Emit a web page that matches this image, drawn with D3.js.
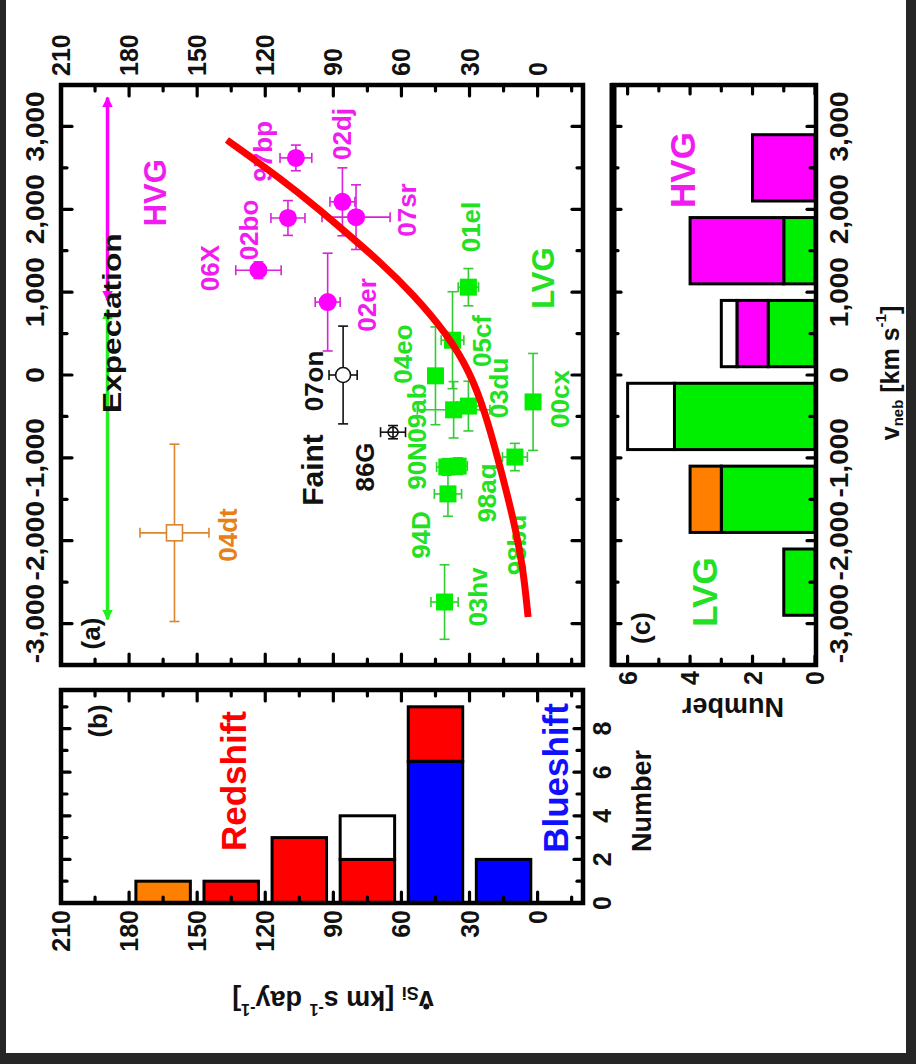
<!DOCTYPE html>
<html>
<head>
<meta charset="utf-8">
<script src="https://cdn.jsdelivr.net/npm/d3@7"></script>
<style>
  html, body { margin: 0; padding: 0; background: #262626; }
  svg { display: block; }
</style>
</head>
<body>
<svg id="fig" width="916" height="1064"></svg>
<script>
// ---------------- data ----------------
// Panel (a): high-velocity-gradient (HVG) objects
const hvgNames   = ["97bp", "02bo", "06X", "02dj", "07sr", "02er"];
const hvgVneb    = [2620, 1895, 1265, 2090, 1905, 880];
const hvgVnebErr = [155, 210, 100, 410, 390, 590];
const hvgVsi     = [106.5, 110, 123, 86, 80, 92.5];
const hvgVsiErr  = [7, 7.5, 10, 5.5, 15, 5.5];

// Panel (a): low-velocity-gradient (LVG) objects
const lvgNames   = ["01el", "05cf", "04eo", "09ab", "03du", "00cx", "90N", "98aq", "94D", "98bu", "03hv"];
const lvgVneb    = [1060, 420, -10, -420, -375, -325, -1110, -1100, -1435, -990, -2740];
const lvgVnebErr = [225, 585, 590, 340, 300, 585, 100, 100, 270, 165, 450];
const lvgVsi     = [30.5, 37.5, 45, 37, 30.5, 2, 40, 35, 39.5, 10, 41];
const lvgVsiErr  = [4.5, 5, 3, 16, 5, 3, 4.5, 4, 6, 5.5, 6];

// Panel (a): faint objects and the peculiar 04dt
const faintNames   = ["07on", "86G"];
const faintVneb    = [0, -690];
const faintVnebErr = [590, 80];
const faintVsi     = [85.7, 63.7];
const faintVsiErr  = [6.2, 5.5];

const oddName    = "04dt";
const oddVneb    = -1905;
const oddVnebErr = 1070;
const oddVsi     = 160;
const oddVsiErr  = 15.2;

// Expected relation (red curve)
const curveVsi  = [136.9, 113.5, 95.9, 82.7, 69.4, 54.9, 39.9, 29.8, 23.2, 17.9, 10.8, 6.4, 4.2];
const curveVneb = [2836, 2378, 1991, 1678, 1364, 978, 495, 36, -447, -965, -1714, -2317, -2921];

// Expected v_neb ranges of the two groups
const expectHVG = [900, 3350];
const expectLVG = [-2950, 790];
const expectVsi = 189.5;

// Panel (b): histogram of Si velocity gradient (bins of 30)
const binsB    = [[150, 180], [120, 150], [90, 120], [60, 90], [30, 60], [0, 30]];
const bBlue    = [0, 0, 0, 0, 6.5, 2];
const bRed     = [0, 1, 3, 2, 2.5, 0];
const bOrange  = [1, 0, 0, 0, 0, 0];
const bBlank   = [0, 0, 0, 2, 0, 0];

// Panel (c): histogram of nebular velocity shift (bins of 1000)
const binsC    = [[-3000, -2000], [-2000, -1000], [-1000, 0], [0, 1000], [1000, 2000], [2000, 3000]];
const cGreen   = [1, 3, 4.5, 1.5, 1, 0];
const cMagenta = [0, 0, 0, 1, 3, 2];
const cOrange  = [0, 1, 0, 0, 0, 0];
const cBlank   = [0, 0, 1.5, 0.5, 0, 0];

// Tick values
const vsiTickLabels  = [210, 180, 150, 120, 90, 60, 30, 0];
const vnebTickLabels = [-3000, -2000, -1000, 0, 1000, 2000, 3000];
const numBTickLabels = [0, 2, 4, 6, 8];
const numCTickLabels = [0, 2, 4, 6];

// ---------------- style ----------------
const FONT = "'Liberation Sans', Arial, Helvetica, sans-serif";
const MAGENTA = "#ff00ff", GREEN = "#00ee00", RED = "#ff0000", BLUE = "#0000ff", ORANGE = "#ff8000";
const MAGENTA_TXT = "#f01cf0", GREEN_TXT = "#22e022", ORANGE_TXT = "#e8801a";
const fmt = d3.formatLocale({decimal: ".", thousands: ",", grouping: [3], currency: ["", ""], minus: "-"}).format(",");

const svg = d3.select("#fig");
svg.append("rect").attr("width", 916).attr("height", 1064).attr("fill", "#262626");
svg.append("rect").attr("x", 6).attr("y", 0).attr("width", 900).attr("height", 1053).attr("fill", "#ffffff");

// ---------------- scales ----------------
const xVsi  = d3.scaleLinear().domain([210, -20]).range([61, 583]);     // panels (a),(b)
const yVneb = d3.scaleLinear().domain([-3500, 3500]).range([665, 85]);  // panels (a),(c)
const yNumB = d3.scaleLinear().domain([0, 9.77]).range([903, 690]);     // panel (b)
const xNumC = d3.scaleLinear().domain([0, 6.5]).range([815, 612]);      // panel (c)

// ---------------- helpers ----------------
function label(g, x, y, str, size, color, opts = {}) {
  const angle = opts.angle ?? -90, anchor = opts.anchor ?? "middle", sx = opts.sx ?? 1;
  return g.append("text")
    .attr("transform", `translate(${x},${y}) rotate(${angle}) scale(${sx},1)`)
    .attr("text-anchor", anchor)
    .attr("dominant-baseline", "central")
    .attr("font-family", FONT).attr("font-weight", "bold")
    .attr("font-size", size).attr("fill", color)
    .text(str);
}

function ticks(g, values, place, isMajor, lenMaj = 11, lenMin = 6) {
  g.selectAll(null).data(values).join("line")
    .each(function (v) {
      const p = place(v), L = isMajor(v) ? lenMaj : lenMin;
      d3.select(this)
        .attr("x1", p.x).attr("y1", p.y)
        .attr("x2", p.x + p.dx * L).attr("y2", p.y + p.dy * L);
    })
    .attr("stroke", "#000").attr("stroke-width", 3.2).attr("stroke-linecap", "round");
}

function errorBars(g, vsi, vsiErr, vneb, vnebErr, color) {
  const cap = 5;
  const rows = vsi.map((v, i) => ({v, ve: vsiErr[i], n: vneb[i], ne: vnebErr[i]}));
  const eg = g.append("g").attr("stroke", color).attr("stroke-width", 1.6).attr("fill", "none");
  rows.forEach(d => {
    const x = xVsi(d.v), y = yVneb(d.n);
    const x0 = xVsi(d.v + d.ve), x1 = xVsi(d.v - d.ve);
    const y0 = yVneb(d.n + d.ne), y1 = yVneb(d.n - d.ne);
    eg.append("line").attr("x1", x0).attr("x2", x1).attr("y1", y).attr("y2", y);
    eg.append("line").attr("x1", x0).attr("x2", x0).attr("y1", y - cap).attr("y2", y + cap);
    eg.append("line").attr("x1", x1).attr("x2", x1).attr("y1", y - cap).attr("y2", y + cap);
    eg.append("line").attr("x1", x).attr("x2", x).attr("y1", y0).attr("y2", y1);
    eg.append("line").attr("x1", x - cap).attr("x2", x + cap).attr("y1", y0).attr("y2", y0);
    eg.append("line").attr("x1", x - cap).attr("x2", x + cap).attr("y1", y1).attr("y2", y1);
  });
}

// ================= panel (a) =================
const gA = svg.append("g");

// expectation arrows
svg.append("defs").call(defs => {
  [["headM", MAGENTA], ["headG", "#22ee22"]].forEach(([id, c]) => {
    defs.append("marker").attr("id", id).attr("viewBox", "0 0 10 10")
      .attr("refX", 9).attr("refY", 5).attr("markerWidth", 3).attr("markerHeight", 5)
      .attr("orient", "auto-start-reverse").attr("markerUnits", "strokeWidth")
      .append("path").attr("d", "M0,0 L10,5 L0,10 Z").attr("fill", c);
  });
});
gA.append("line")
  .attr("x1", xVsi(expectVsi)).attr("x2", xVsi(expectVsi))
  .attr("y1", yVneb(expectHVG[0])).attr("y2", yVneb(expectHVG[1]))
  .attr("stroke", MAGENTA).attr("stroke-width", 3.5)
  .attr("marker-start", "url(#headM)").attr("marker-end", "url(#headM)");
gA.append("line")
  .attr("x1", xVsi(expectVsi)).attr("x2", xVsi(expectVsi))
  .attr("y1", yVneb(expectLVG[0])).attr("y2", yVneb(expectLVG[1]))
  .attr("stroke", "#22ee22").attr("stroke-width", 3.5)
  .attr("marker-start", "url(#headG)").attr("marker-end", "url(#headG)");

// error bars
errorBars(gA, hvgVsi, hvgVsiErr, hvgVneb, hvgVnebErr, "#d624d6");
errorBars(gA, lvgVsi, lvgVsiErr, lvgVneb, lvgVnebErr, "#33cc33");
errorBars(gA, faintVsi, faintVsiErr, faintVneb, faintVnebErr, "#111");
errorBars(gA, [oddVsi], [oddVsiErr], [oddVneb], [oddVnebErr], "#d9862e");

// markers
gA.selectAll(null).data(hvgVsi).join("circle")
  .attr("cx", d => xVsi(d)).attr("cy", (d, i) => yVneb(hvgVneb[i])).attr("r", 9)
  .attr("fill", MAGENTA);
gA.selectAll(null).data(lvgVsi).join("rect")
  .attr("x", d => xVsi(d) - 8.5).attr("y", (d, i) => yVneb(lvgVneb[i]) - 8.5)
  .attr("width", 17).attr("height", 17).attr("fill", GREEN);
gA.append("circle").attr("cx", xVsi(faintVsi[0])).attr("cy", yVneb(faintVneb[0])).attr("r", 7.5)
  .attr("fill", "#fff").attr("stroke", "#111").attr("stroke-width", 1.6);
gA.append("circle").attr("cx", xVsi(faintVsi[1])).attr("cy", yVneb(faintVneb[1])).attr("r", 5)
  .attr("fill", "none").attr("stroke", "#111").attr("stroke-width", 1.6);
gA.append("rect").attr("x", xVsi(oddVsi) - 8).attr("y", yVneb(oddVneb) - 8)
  .attr("width", 16).attr("height", 16).attr("fill", "#fff")
  .attr("stroke", "#d9862e").attr("stroke-width", 1.6);

// object names (positions in data units)
const nameSpots = {
  "97bp": [121, 2700], "02bo": [127.2, 1750], "06X": [144.3, 1291], "02dj": [86.2, 2909],
  "07sr": [57.5, 1991], "02er": [75.2, 845],
  "01el": [29.4, 1786], "05cf": [24.5, 410], "04eo": [59.3, 253], "09ab": [53.1, -459],
  "03du": [17.0, -157], "00cx": [-9.9, -290], "90N": [53.1, -1098], "98aq": [22.3, -1424],
  "94D": [51.4, -1931], "98bu": [9.1, -2052], "03hv": [26.3, -2679],
  "07on": [98.5, -72], "86G": [76.1, -1110], "04dt": [136.4, -1931]
};
hvgNames.forEach(n => label(gA, xVsi(nameSpots[n][0]), yVneb(nameSpots[n][1]), n, 26, MAGENTA_TXT));
lvgNames.forEach(n => label(gA, xVsi(nameSpots[n][0]), yVneb(nameSpots[n][1]), n, 26, GREEN_TXT));
faintNames.forEach(n => label(gA, xVsi(nameSpots[n][0]), yVneb(nameSpots[n][1]), n, 26, "#111"));
label(gA, xVsi(nameSpots[oddName][0]), yVneb(nameSpots[oddName][1]), oddName, 26, ORANGE_TXT);

label(gA, xVsi(99.4), yVneb(-1147), "Faint", 30, "#111");
label(gA, xVsi(187.5), yVneb(625), "Expectation", 26, "#111", {sx: 1.22});
label(gA, xVsi(168.5), yVneb(2200), "HVG", 31, MAGENTA_TXT);
label(gA, xVsi(-2.8), yVneb(1170), "LVG", 31, GREEN_TXT);
label(gA, xVsi(197), yVneb(-3120), "(a)", 26, "#111");

// expected relation
const line = d3.line().x(d => xVsi(d[0])).y(d => yVneb(d[1])).curve(d3.curveBasis);
gA.append("path").datum(curveVsi.map((v, i) => [v, curveVneb[i]]))
  .attr("d", line).attr("fill", "none").attr("stroke", RED).attr("stroke-width", 7);

// ticks and frame of (a)
const vnebTicks = d3.range(-3000, 3001, 500);
const vsiTicks = d3.range(-15, 211, 15);
const majV = v => v % 1000 === 0;
const majS = v => v % 30 === 0;
ticks(gA, vnebTicks, v => ({x: 61, y: yVneb(v), dx: 1, dy: 0}), majV);
ticks(gA, vnebTicks, v => ({x: 583, y: yVneb(v), dx: -1, dy: 0}), majV);
ticks(gA, vsiTicks, v => ({x: xVsi(v), y: 85, dx: 0, dy: 1}), majS);
ticks(gA, vsiTicks, v => ({x: xVsi(v), y: 665, dx: 0, dy: -1}), majS);
gA.append("rect").attr("x", 61).attr("y", 85).attr("width", 522).attr("height", 580)
  .attr("fill", "none").attr("stroke", "#000").attr("stroke-width", 4.5);

vsiTickLabels.forEach(v => label(gA, xVsi(v), 76, String(v), 25, "#111", {anchor: "start"}));
vnebTickLabels.forEach(v => label(gA, 36, yVneb(v), fmt(v), 25, "#111", {sx: 1.12}));

// ================= panel (b) =================
const gB = svg.append("g");
const padB = 3;
binsB.forEach((bin, i) => {
  const layers = [[bBlue[i], BLUE], [bRed[i], RED], [bOrange[i], ORANGE], [bBlank[i], "#fff"]];
  let base = 0;
  layers.forEach(([n, c]) => {
    if (n <= 0) return;
    gB.append("rect")
      .attr("x", xVsi(bin[1] - padB)).attr("width", xVsi(bin[0] + padB) - xVsi(bin[1] - padB))
      .attr("y", yNumB(base + n)).attr("height", yNumB(base) - yNumB(base + n))
      .attr("fill", c).attr("stroke", "#000").attr("stroke-width", 3);
    base += n;
  });
});
const numBTicks = d3.range(0, 10, 1);
const majN = v => v % 2 === 0;
ticks(gB, vsiTicks, v => ({x: xVsi(v), y: 690, dx: 0, dy: 1}), majS);
ticks(gB, vsiTicks, v => ({x: xVsi(v), y: 903, dx: 0, dy: -1}), majS);
ticks(gB, numBTicks, v => ({x: 61, y: yNumB(v), dx: 1, dy: 0}), majN, 9, 6);
ticks(gB, numBTicks, v => ({x: 583, y: yNumB(v), dx: -1, dy: 0}), majN, 9, 6);
gB.append("rect").attr("x", 61).attr("y", 690).attr("width", 522).attr("height", 213)
  .attr("fill", "none").attr("stroke", "#000").attr("stroke-width", 4.5);

label(gB, 98, 721, "(b)", 26, "#111");
label(gB, 233, 781, "Redshift", 35, RED);
label(gB, 555, 778, "Blueshift", 35, "#1010ff");
vsiTickLabels.forEach(v => label(gB, xVsi(v), 910, String(v), 25, "#111", {anchor: "end"}));
numBTickLabels.forEach(v => label(gB, 602, yNumB(v), String(v), 25, "#111"));
label(gB, 642, 801, "Number", 27, "#111");

// v_Si axis title (upside down)
{
  const t = svg.append("g").attr("transform", "translate(333,1000) rotate(180)")
    .append("text").attr("text-anchor", "middle").attr("dominant-baseline", "central")
    .attr("font-family", FONT).attr("font-weight", "bold").attr("font-size", 27).attr("fill", "#111");
  t.append("tspan").text("v");
  t.append("tspan").attr("font-size", 18).attr("dy", 7).text("Si");
  t.append("tspan").attr("dy", -7).text(" [km s");
  t.append("tspan").attr("font-size", 16).attr("dy", -10).text("-1");
  t.append("tspan").attr("dy", 10).text(" day");
  t.append("tspan").attr("font-size", 16).attr("dy", -10).text("-1");
  t.append("tspan").attr("dy", 10).text("]");
  const e = t.node().getExtentOfChar(0);
  d3.select(t.node().parentNode).append("circle")
    .attr("cx", e.x + e.width / 2).attr("cy", e.y + e.height * 0.28).attr("r", 3).attr("fill", "#111");
}

// ================= panel (c) =================
const gC = svg.append("g");
const padC = 100;
binsC.forEach((bin, i) => {
  const layers = [[cGreen[i], GREEN], [cMagenta[i], MAGENTA], [cOrange[i], ORANGE], [cBlank[i], "#fff"]];
  let base = 0;
  layers.forEach(([n, c]) => {
    if (n <= 0) return;
    gC.append("rect")
      .attr("x", xNumC(base + n)).attr("width", xNumC(base) - xNumC(base + n))
      .attr("y", yVneb(bin[1] - padC)).attr("height", yVneb(bin[0] + padC) - yVneb(bin[1] - padC))
      .attr("fill", c).attr("stroke", "#000").attr("stroke-width", 3);
    base += n;
  });
});
const numCTicks = d3.range(0, 7, 1);
ticks(gC, vnebTicks, v => ({x: 612, y: yVneb(v), dx: 1, dy: 0}), majV, 9, 6);
ticks(gC, vnebTicks, v => ({x: 816, y: yVneb(v), dx: -1, dy: 0}), majV, 9, 6);
ticks(gC, numCTicks, v => ({x: xNumC(v), y: 85, dx: 0, dy: 1}), majN, 9, 6);
ticks(gC, numCTicks, v => ({x: xNumC(v), y: 665, dx: 0, dy: -1}), majN, 9, 6);
gC.append("rect").attr("x", 613).attr("y", 85).attr("width", 203).attr("height", 580)
  .attr("fill", "none").attr("stroke", "#000").attr("stroke-width", 4.5);
gC.append("line").attr("x1", 613).attr("x2", 613).attr("y1", 83).attr("y2", 667)
  .attr("stroke", "#000").attr("stroke-width", 7);

label(gC, 641, 628, "(c)", 26, "#111");
label(gC, 682, 170, "HVG", 35, MAGENTA_TXT);
label(gC, 704, 592, "LVG", 35, GREEN_TXT);
vnebTickLabels.forEach(v => label(gC, 840, yVneb(v), fmt(v), 25, "#111", {sx: 1.12}));
numCTickLabels.forEach(v => label(gC, xNumC(v), 678, String(v), 25, "#111"));
label(gC, 733, 707, "Number", 27, "#111", {angle: 180});

// v_neb axis title
{
  const t = svg.append("g").attr("transform", "translate(890,373) rotate(-90)")
    .append("text").attr("text-anchor", "middle").attr("dominant-baseline", "central")
    .attr("font-family", FONT).attr("font-weight", "bold").attr("font-size", 25).attr("fill", "#111");
  t.append("tspan").text("v");
  t.append("tspan").attr("font-size", 15).attr("dy", 7).text("neb");
  t.append("tspan").attr("dy", -7).text(" [km s");
  t.append("tspan").attr("font-size", 15).attr("dy", -10).text("-1");
  t.append("tspan").attr("dy", 10).text("]");
}
</script>
</body>
</html>
